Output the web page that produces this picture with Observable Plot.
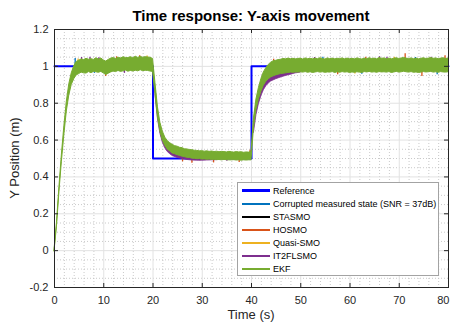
<!DOCTYPE html>
<html>
<head>
<meta charset="utf-8">
<script src="https://cdn.jsdelivr.net/npm/d3@7"></script>
<script src="https://cdn.jsdelivr.net/npm/@observablehq/plot@0.6"></script>
<style>
  body { margin: 0; background: #fff; font-family: "Liberation Sans", Arial, Helvetica, sans-serif; }
  #wrap { position: relative; width: 451px; height: 324px; overflow: hidden; background: #fff; }
  #title { position: absolute; left: 0; top: 6px; width: 502px; text-align: center; font-weight: bold; font-size: 15px; line-height: 20px; color: #000; }
  #xlabel { position: absolute; left: 0; top: 306px; width: 502px; text-align: center; font-size: 13px; line-height: 18px; color: #262626; }
  #ylabel { position: absolute; left: 15px; top: 158px; width: 0; height: 0; }
  #ylabel span { position: absolute; left: 0; top: 0; transform: translate(-50%, -50%) rotate(-90deg); white-space: nowrap; font-size: 13px; line-height: 16px; color: #262626; }
  #legend { position: absolute; left: 237px; top: 182px; width: 202px; height: 94px; box-sizing: border-box; border: 1px solid #a3a3a3; background: #fff; }
  .row { position: absolute; left: 0; height: 13px; width: 200px; }
  .swatch { position: absolute; left: 4px; width: 28px; top: 5.5px; }
  .lbl { position: absolute; left: 35px; top: 0; font-size: 9px; line-height: 13px; color: #000; white-space: nowrap; }
</style>
</head>
<body>
<div id="wrap">
  <div id="title">Time response: Y-axis movement</div>
  <div id="xlabel">Time (s)</div>
  <div id="ylabel"><span>Y Position (m)</span></div>
</div>
<script>
// ---- axes ----
const xTicks = [0, 10, 20, 30, 40, 50, 60, 70, 80];
const yTicks = [-0.2, 0, 0.2, 0.4, 0.6, 0.8, 1, 1.2];
const yTickLabels = ["-0.2", "0", "0.2", "0.4", "0.6", "0.8", "1", "1.2"];

// ---- legend ----
const seriesNames = ["Reference", "Corrupted measured state (SNR = 37dB)", "STASMO", "HOSMO", "Quasi-SMO", "IT2FLSMO", "EKF"];
const seriesColors = ["#0000ff", "#0072BD", "#000000", "#D95319", "#EDB120", "#7E2F8E", "#77AC30"];

// ---- reference set-point (step changes) ----
const refTime = [0, 20, 40, 80];
const refValue = [1, 0.5, 1, 1];

// ---- EKF estimate: upper / lower envelope of the noisy trace, every 0.5 s from 0 to 80 s ----
const ekfUpper = [
  0.004, 0.15, 0.345, 0.52, 0.675, 0.808, 0.902, 0.962, 1.0, 1.024,
  1.03, 1.038, 1.034, 1.041, 1.036, 1.039, 1.035, 1.044, 1.037, 1.043,
  1.032, 1.026, 1.035, 1.042, 1.045, 1.04, 1.047, 1.043, 1.049, 1.046,
  1.045, 1.05, 1.044, 1.052, 1.046, 1.051, 1.047, 1.05, 1.048, 1.047,
  1.04, 0.91, 0.778, 0.694, 0.645, 0.613, 0.594, 0.583, 0.574, 0.567,
  0.564, 0.558, 0.556, 0.55, 0.549, 0.546, 0.545, 0.542, 0.541, 0.539,
  0.54, 0.537, 0.539, 0.536, 0.538, 0.535, 0.537, 0.534, 0.536, 0.535,
  0.533, 0.536, 0.534, 0.532, 0.535, 0.533, 0.534, 0.531, 0.533, 0.532,
  0.535, 0.718, 0.82, 0.882, 0.93, 0.967, 0.99, 1.008, 1.02, 1.028,
  1.03, 1.034, 1.036, 1.04, 1.038, 1.042, 1.039, 1.041, 1.038, 1.04,
  1.042, 1.037, 1.043, 1.039, 1.041, 1.038, 1.042, 1.039, 1.044, 1.04,
  1.037, 1.043, 1.039, 1.042, 1.038, 1.041, 1.04, 1.043, 1.038, 1.042,
  1.039, 1.041, 1.038, 1.043, 1.04, 1.037, 1.042, 1.039, 1.044, 1.04,
  1.042, 1.038, 1.045, 1.041, 1.043, 1.039, 1.042, 1.038, 1.041, 1.044,
  1.04, 1.043, 1.046, 1.042, 1.04, 1.043, 1.039, 1.042, 1.038, 1.041,
  1.044, 1.04, 1.042, 1.045, 1.041, 1.043, 1.039, 1.042, 1.044, 1.04,
  1.042
];
const ekfLower = [
  -0.004, 0.13, 0.318, 0.482, 0.628, 0.755, 0.842, 0.899, 0.93, 0.951,
  0.958, 0.966, 0.962, 0.961, 0.969, 0.963, 0.97, 0.968, 0.965, 0.97,
  0.962, 0.953, 0.96, 0.967, 0.972, 0.969, 0.975, 0.97, 0.973, 0.977,
  0.971, 0.975, 0.972, 0.976, 0.973, 0.979, 0.974, 0.976, 0.975, 0.972,
  0.97, 0.85, 0.724, 0.645, 0.597, 0.568, 0.548, 0.538, 0.527, 0.523,
  0.518, 0.514, 0.51, 0.507, 0.504, 0.503, 0.499, 0.498, 0.496, 0.497,
  0.494, 0.495, 0.493, 0.494, 0.492, 0.493, 0.491, 0.492, 0.49, 0.492,
  0.491, 0.49, 0.49, 0.491, 0.489, 0.49, 0.488, 0.49, 0.489, 0.49,
  0.49, 0.664, 0.762, 0.82, 0.862, 0.895, 0.916, 0.93, 0.94, 0.946,
  0.951, 0.955, 0.958, 0.96, 0.962, 0.964, 0.966, 0.965, 0.967, 0.966,
  0.968, 0.966, 0.969, 0.965, 0.968, 0.964, 0.967, 0.969, 0.966, 0.968,
  0.965, 0.967, 0.966, 0.969, 0.964, 0.968, 0.965, 0.969, 0.966, 0.968,
  0.964, 0.967, 0.965, 0.968, 0.966, 0.964, 0.969, 0.967, 0.97, 0.966,
  0.968, 0.965, 0.969, 0.967, 0.968, 0.966, 0.969, 0.964, 0.967, 0.97,
  0.966, 0.968, 0.971, 0.968, 0.966, 0.969, 0.965, 0.967, 0.964, 0.966,
  0.969, 0.967, 0.968, 0.97, 0.966, 0.968, 0.965, 0.969, 0.967, 0.966,
  0.968
];

// ---- IT2FLSMO: sections where it runs below the EKF band ----
const it2Time  = [20.5, 21, 21.5, 22, 22.5, 23, 23.5, 24, 25, 26, 27, 28, 29, 30, 31, 32, 33];
const it2Lower = [0.845, 0.715, 0.635, 0.585, 0.555, 0.535, 0.523, 0.513, 0.503, 0.497, 0.492, 0.489, 0.488, 0.488, 0.489, 0.49, 0.491];
const it2Upper = [0.88, 0.75, 0.67, 0.62, 0.59, 0.57, 0.56, 0.55, 0.54, 0.532, 0.526, 0.521, 0.518, 0.516, 0.515, 0.514, 0.513];
const it2Time2  = [40.5, 41, 41.5, 42, 42.5, 43, 43.5, 44, 45, 46, 47, 48, 49, 50];
const it2Lower2 = [0.64, 0.735, 0.795, 0.838, 0.87, 0.892, 0.907, 0.918, 0.93, 0.94, 0.948, 0.955, 0.962, 0.966];
const it2Upper2 = [0.69, 0.79, 0.85, 0.895, 0.93, 0.952, 0.968, 0.978, 0.99, 0.996, 1.0, 1.002, 1.002, 1.004];

// ---- noise peaks poking out of the band: [time, level, peak] ----
const hosmoPeaks = [
  [10.4, 1.0, 0.945], [12.6, 1.0, 1.052], [17.3, 1.0, 1.058], [26.0, 0.51, 0.482],
  [27.9, 0.51, 0.474], [32.3, 0.51, 0.476], [37.5, 0.51, 0.478], [39.7, 0.51, 0.545],
  [44.5, 1.0, 1.038], [57.5, 1.0, 0.955], [63.2, 1.0, 1.05], [71.2, 1.0, 1.068],
  [74.6, 1.0, 0.945], [79.3, 1.0, 1.058]
];
const it2Peaks = [
  [5.5, 1.0, 1.048], [7.2, 1.0, 1.05], [9.0, 1.0, 1.047], [14.2, 1.0, 0.962],
  [35.0, 0.51, 0.485], [52.8, 1.0, 1.048], [66.0, 1.0, 1.052], [67.5, 1.0, 1.05],
  [76.5, 1.0, 1.05]
];
const quasiPeaks = [
  [4.8, 1.0, 1.04], [18.8, 1.0, 1.056], [29.5, 0.51, 0.488], [61.0, 1.0, 0.958], [69.0, 1.0, 1.05]
];
const measuredPeaks = [
  [4.2, 1.0, 1.042], [8.1, 1.0, 0.962], [54.5, 1.0, 1.05], [62.4, 1.0, 0.957],
  [73.3, 1.0, 1.048], [77.7, 1.0, 0.955]
];

// ---- tables for the marks ----
const reference = refTime.map((t, i) => ({t, y: refValue[i]}));
const ekf = ekfUpper.map((hi, i) => ({t: i * 0.5, hi, lo: ekfLower[i]}));
const it2 = [
  ...it2Time.map((t, i) => ({t, lo: it2Lower[i], hi: it2Upper[i], seg: "a"})),
  ...it2Time2.map((t, i) => ({t, lo: it2Lower2[i], hi: it2Upper2[i], seg: "b"}))
];
const peaks = [
  ...measuredPeaks.map(p => ({t: p[0], base: p[1], tip: p[2], c: seriesColors[1]})),
  ...quasiPeaks.map(p => ({t: p[0], base: p[1], tip: p[2], c: seriesColors[4]})),
  ...it2Peaks.map(p => ({t: p[0], base: p[1], tip: p[2], c: seriesColors[5]})),
  ...hosmoPeaks.map(p => ({t: p[0], base: p[1], tip: p[2], c: seriesColors[3]}))
];

const xMinor = d3.range(0, 81, 2).filter(v => v % 10 !== 0);
const yMinor = d3.range(-0.2, 1.2001, 0.05).map(v => +v.toFixed(2)).filter(v => Math.abs(Math.round(v * 5) - v * 5) > 1e-6);

const W = 451, H = 324, mT = 29, mB = 37, mL = 54, mR = 3;
const innerW = W - mL - mR, innerH = H - mT - mB;
const tickLen = 4;
const axisColor = "#262626";

const chart = Plot.plot({
  width: W, height: H,
  marginTop: mT, marginBottom: mB, marginLeft: mL, marginRight: mR,
  style: {fontFamily: "'Liberation Sans', Arial, Helvetica, sans-serif", fontSize: "11px", color: axisColor, background: "white"},
  x: {domain: [0, 80], label: null},
  y: {domain: [-0.2, 1.2], label: null},
  marks: [
    // grid
    Plot.ruleX(xMinor, {stroke: "#bdbdbd", strokeDasharray: "1,2", strokeWidth: 0.8}),
    Plot.ruleY(yMinor, {stroke: "#bdbdbd", strokeDasharray: "1,2", strokeWidth: 0.8}),
    Plot.ruleX(xTicks, {stroke: "#e2e2e2"}),
    Plot.ruleY(yTicks, {stroke: "#e2e2e2"}),
    // set-point
    Plot.line(reference, {x: "t", y: "y", curve: "step-after", stroke: seriesColors[0], strokeWidth: 2}),
    // noise peaks of the other observers
    Plot.ruleX(peaks, {x: "t", y1: "base", y2: "tip", stroke: "c", strokeWidth: 1.3}),
    // IT2FLSMO sections below the EKF band
    Plot.areaY(it2, {x: "t", y1: "lo", y2: "hi", z: "seg", fill: seriesColors[5], stroke: seriesColors[5], strokeWidth: 0.8}),
    // EKF band
    Plot.areaY(ekf, {x: "t", y1: "lo", y2: "hi", fill: seriesColors[6], stroke: seriesColors[6], strokeWidth: 1}),
    // box and inward ticks
    Plot.frame({stroke: axisColor}),
    Plot.tickX(xTicks, {stroke: axisColor, insetTop: innerH - tickLen}),
    Plot.tickX(xTicks, {stroke: axisColor, insetBottom: innerH - tickLen}),
    Plot.tickY(yTicks, {stroke: axisColor, insetRight: innerW - tickLen}),
    Plot.tickY(yTicks, {stroke: axisColor, insetLeft: innerW - tickLen}),
    Plot.axisX(xTicks.slice(0, -1), {tickSize: 0, tickPadding: 9, fill: axisColor, fontSize: 11}),
    // last label sits at the right edge of the window; keep it inside
    Plot.axisX(xTicks.slice(-1), {tickSize: 0, tickPadding: 9, fill: axisColor, fontSize: 11, textAnchor: "end", dx: 1}),
    Plot.axisY(yTicks, {tickSize: 0, tickPadding: 6, fill: axisColor, fontSize: 11,
      tickFormat: v => yTickLabels[yTicks.findIndex(k => Math.abs(k - v) < 1e-9)]})
  ]
});
const wrap = document.getElementById("wrap");
chart.style.position = "absolute";
chart.style.left = "0";
chart.style.top = "0";
wrap.insertBefore(chart, wrap.firstChild);

// legend
const legend = document.createElement("div");
legend.id = "legend";
seriesNames.forEach((name, i) => {
  const row = document.createElement("div");
  row.className = "row";
  row.style.top = (2.2 + i * 13) + "px";
  const sw = document.createElement("div");
  sw.className = "swatch";
  const lw = i === 0 ? 2.5 : 2;
  sw.style.height = lw + "px";
  sw.style.marginTop = (-lw / 2) + "px";
  sw.style.background = seriesColors[i];
  const lb = document.createElement("div");
  lb.className = "lbl";
  lb.textContent = name;
  row.appendChild(sw);
  row.appendChild(lb);
  legend.appendChild(row);
});
wrap.appendChild(legend);
</script>
</body>
</html>
